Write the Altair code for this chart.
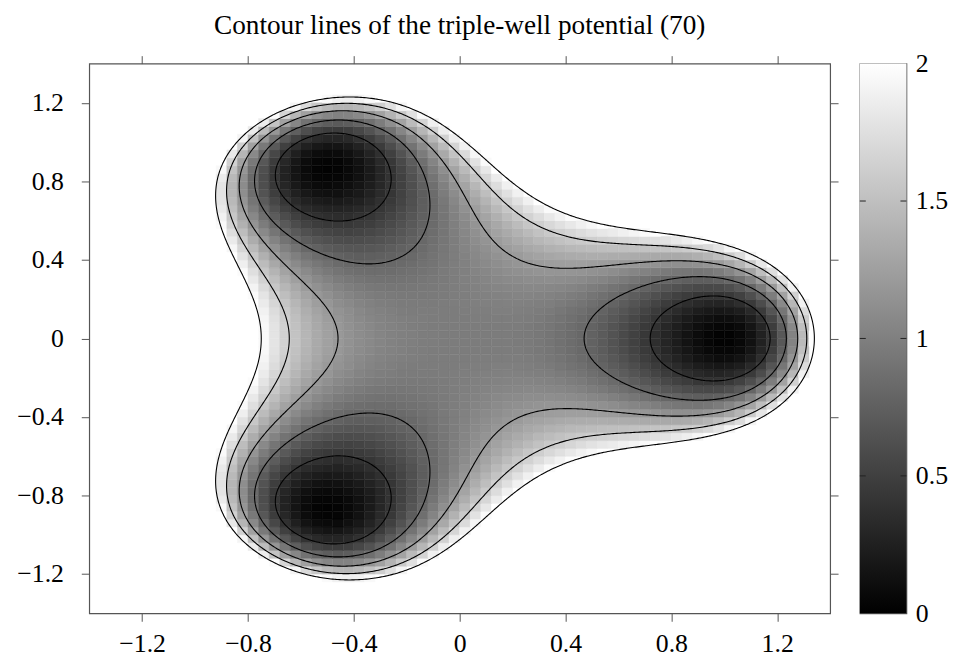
import numpy as np
import pandas as pd
import altair as alt

# ---------------- values ----------------
TITLE = "Contour lines of the triple-well potential (70)"
x_ticks = [-1.2, -0.8, -0.4, 0, 0.4, 0.8, 1.2]
y_ticks = [-1.2, -0.8, -0.4, 0, 0.4, 0.8, 1.2]
cb_ticks = [0, 0.5, 1, 1.5, 2]
cb_inner_ticks = [0.5, 1, 1.5]
contour_levels = [0.4, 0.8, 1.2, 1.6, 2.0]
axis_domain = [-1.4, 1.4]
color_domain = [0, 2]
n_cells = 70                      # heat-map resolution (70 x 70)
# triple-well potential, parameters estimated from contour crossings
well_angle_deg = [0, 120, 240]    # direction of the three wells
radial_coeffs = [0.97, 0.64, 2.12]  # barrier profile c0 + c1 r^2 + c2 r^4
well_coeffs = [4.0, 0.075]          # well depth a r^3 exp(-b r^5)


def potential(x, y):
    r = np.hypot(x, y)
    th = np.arctan2(y, x)
    c0, c1, c2 = radial_coeffs
    a, b = well_coeffs
    h = (1 + np.cos(3 * (th - np.radians(well_angle_deg[0])))) / 2
    return c0 + c1 * r**2 + c2 * r**4 - a * r**3 * np.exp(-b * r**5) * h


# ---------------- heat map cells ----------------
step = (axis_domain[1] - axis_domain[0]) / n_cells
centers = axis_domain[0] + step * (np.arange(n_cells) + 0.5)
CX, CY = np.meshgrid(centers, centers)
V = potential(CX, CY)
mask = V <= color_domain[1]
cells = pd.DataFrame({
    "x0": (CX - step / 2)[mask], "x1": (CX + step / 2)[mask],
    "y0": (CY - step / 2)[mask], "y1": (CY + step / 2)[mask],
    "v": V[mask],
})

# ---------------- contour lines (marching squares) ----------------
gx = np.linspace(axis_domain[0], axis_domain[1], 421)
gy = np.linspace(axis_domain[0], axis_domain[1], 421)
GX, GY = np.meshgrid(gx, gy)
Z = potential(GX, GY)


def edge_point(key, L):
    kind, j, i = key
    if kind == "h":
        za, zb = Z[j, i], Z[j, i + 1]
        t = (L - za) / (zb - za)
        return gx[i] + t * (gx[i + 1] - gx[i]), gy[j]
    za, zb = Z[j, i], Z[j + 1, i]
    t = (L - za) / (zb - za)
    return gx[i], gy[j] + t * (gy[j + 1] - gy[j])


rows = []
line_id = 0
for L in contour_levels:
    above = Z >= L
    a = above[:-1, :-1]; b = above[:-1, 1:]; c = above[1:, 1:]; d = above[1:, :-1]
    mixed = ~((a == b) & (b == c) & (c == d))
    adj = {}

    def link(p, q):
        adj.setdefault(p, []).append(q)
        adj.setdefault(q, []).append(p)

    for j, i in zip(*np.nonzero(mixed)):
        A, B, C, D = above[j, i], above[j, i + 1], above[j + 1, i + 1], above[j + 1, i]
        bottom, right, top, left = ("h", j, i), ("v", j, i + 1), ("h", j + 1, i), ("v", j, i)
        edges = []
        if A != B: edges.append(bottom)
        if B != C: edges.append(right)
        if D != C: edges.append(top)
        if A != D: edges.append(left)
        if len(edges) == 2:
            link(edges[0], edges[1])
        elif len(edges) == 4:
            centre = (Z[j, i] + Z[j, i + 1] + Z[j + 1, i + 1] + Z[j + 1, i]) / 4 >= L
            if centre == A:
                link(bottom, right); link(top, left)
            else:
                link(left, bottom); link(right, top)

    visited = set()
    starts = [k for k, v in adj.items() if len(v) == 1] + list(adj.keys())
    for s in starts:
        if s in visited:
            continue
        path = [s]
        visited.add(s)
        cur = s
        while True:
            nxt = [n for n in adj[cur] if n not in visited]
            if not nxt:
                if len(adj[cur]) == 2 and s in adj[cur] and len(path) > 2:
                    path.append(s)
                break
            cur = nxt[0]
            visited.add(cur)
            path.append(cur)
        for k, key in enumerate(path):
            px, py = edge_point(key, L)
            rows.append({"line": line_id, "order": k, "x": px, "y": py})
        line_id += 1

lines = pd.DataFrame(rows)

# ---------------- chart ----------------
FONT = "Liberation Serif"
AX = "#555555"
W, H = 748, 555
LSIZE = 26

xscale = alt.Scale(domain=axis_domain, nice=False, zero=False)
yscale = alt.Scale(domain=axis_domain, nice=False, zero=False)
cscale = alt.Scale(domain=color_domain, range=["#000000", "#ffffff"], interpolate="rgb")

common_axis = dict(title=None, grid=False, domain=False, tickSize=8, tickColor=AX,
                   tickWidth=1, labelFont=FONT, labelFontSize=LSIZE, labelColor="black",
                   format=".1~f")

heat = alt.Chart(cells).mark_rect(strokeWidth=0.5).encode(
    x=alt.X("x0:Q", scale=xscale,
            axis=alt.Axis(values=x_ticks, orient="bottom", labelPadding=10, **common_axis)),
    x2="x1:Q",
    y=alt.Y("y0:Q", scale=yscale,
            axis=alt.Axis(values=y_ticks, orient="left", labelPadding=18, **common_axis)),
    y2="y1:Q",
    color=alt.Color("v:Q", scale=cscale, legend=None),
    stroke=alt.Stroke("v:Q", scale=cscale, legend=None),
)

contours = alt.Chart(lines).mark_line(color="black", strokeWidth=1.1).encode(
    x=alt.X("x:Q", scale=xscale,
            axis=alt.Axis(values=x_ticks, orient="top", labels=False, **common_axis)),
    y=alt.Y("y:Q", scale=yscale,
            axis=alt.Axis(values=y_ticks, orient="right", labels=False, **common_axis)),
    detail="line:N",
    order="order:Q",
)

main = alt.layer(heat, contours).resolve_axis(x="independent", y="independent").properties(
    width=W, height=H,
    title=alt.TitleParams(TITLE, font=FONT, fontSize=27.5, fontWeight="normal",
                          color="black", anchor="middle", frame="group", offset=16),
)

CBW = 47
cb_one = pd.DataFrame({"k": [0]})
cb_t = pd.DataFrame({"t": cb_inner_ticks})
cb_scale = alt.Scale(domain=color_domain, nice=False, zero=False)

grad = alt.Chart(cb_one).mark_rect(
    color=alt.Gradient(gradient="linear",
                       stops=[alt.GradientStop(color="#000000", offset=0),
                              alt.GradientStop(color="#ffffff", offset=1)],
                       x1=0, x2=0, y1=1, y2=0)
).encode(x=alt.value(0), x2=alt.value(CBW), y=alt.value(0), y2=alt.value(H))

tick_l = alt.Chart(cb_t).mark_rule(color="#222222", strokeWidth=1).encode(
    y=alt.Y("t:Q", scale=cb_scale,
            axis=alt.Axis(values=cb_ticks, orient="right", title=None, grid=False,
                          domain=False, ticks=False, tickSize=0, labelPadding=9,
                          labelFont=FONT, labelFontSize=LSIZE, labelColor="black",
                          format=".1~f")),
    x=alt.value(0), x2=alt.value(6),
)
tick_r = alt.Chart(cb_t).mark_rule(color="#222222", strokeWidth=1).encode(
    y=alt.Y("t:Q", scale=cb_scale), x=alt.value(CBW - 6), x2=alt.value(CBW),
)
colorbar = alt.layer(grad, tick_l, tick_r).properties(width=CBW, height=H)

chart = alt.hconcat(main, colorbar, spacing=18).properties(
    padding={"left": 8, "top": 0, "right": 0, "bottom": 0}
).configure_view(stroke=AX, strokeWidth=1.2).configure_concat(spacing=18)

chart.save("out.html", embed_options={"renderer": "svg", "actions": False})
